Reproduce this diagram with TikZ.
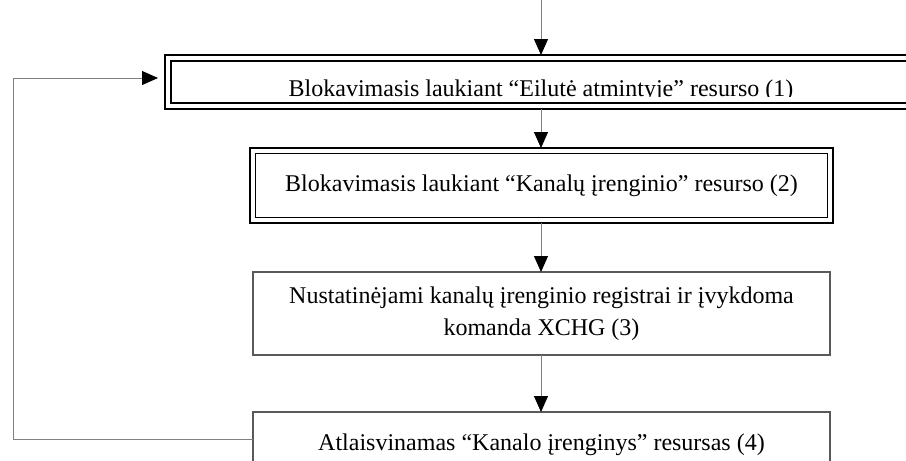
\documentclass[tikz,border=0pt]{standalone}
\usepackage{fontspec}
\setmainfont{Liberation Serif}
\usetikzlibrary{arrows.meta}
\begin{document}
\begin{tikzpicture}[x=1pt,y=-1pt,
  frame/.style={draw=black,line width=2.6pt,minimum width=#1,inner sep=0pt,outer sep=0pt},
  plainbox/.style={draw=black!65,line width=1.1pt,inner sep=0pt,outer sep=0pt},
  label/.style={anchor=base,inner sep=0pt,font=\fontsize{24}{32}\selectfont},
  flow/.style={draw=black!50,line width=1pt,-{Triangle[length=16pt,width=14pt,black]}}]
\clip (0,0) rectangle (906,461);
\fill[white] (0,0) rectangle (906,461);

% process boxes
\node[frame=752pt,minimum height=54pt] (b1) at (541,82) {};
\draw[line width=1.4pt] ([shift={(6pt,6pt)}]b1.south west) rectangle ([shift={(-6pt,-6pt)}]b1.north east);
\node[frame=583pt,minimum height=75pt] (b2) at (541.5,185.5) {};
\draw[line width=1.4pt] ([shift={(5.5pt,5.5pt)}]b2.south west) rectangle ([shift={(-5.5pt,-5.5pt)}]b2.north east);
\node[plainbox,minimum width=577pt,minimum height=83pt] (b3) at (541.5,313.5) {};
\node[plainbox,minimum width=577pt,minimum height=83pt] (b4) at (541.5,453.5) {};

% texts (the first line is cut off by its frame)
\begin{scope}
  \clip (171,61) rectangle (911,96.5);
  \node[label] (t1) at (541,96.5) {Blokavimasis laukiant “Eilutė atmintyje” resurso (1)};
\end{scope}
\node[label] (t2) at (541.5,191) {Blokavimasis laukiant “Kanalų įrenginio” resurso (2)};
\node[label] (t3a) at (541.5,303) {Nustatinėjami kanalų įrenginio registrai ir įvykdoma};
\node[label] (t3b) at (541.5,335) {komanda XCHG (3)};
\node[label] (t4) at (541.5,450) {Atlaisvinamas “Kanalo įrenginys” resursas (4)};

% connectors
\coordinate (entry) at (541,-2);
\draw[flow] (entry) -- (b1.north);
\draw[flow] (b1.south -| entry) -- (b2.north -| entry);
\draw[flow] (b2.south -| entry) -- (b3.north -| entry);
\draw[flow] (b3.south -| entry) -- (b4.north -| entry);
\draw[flow,shorten >=7pt] ([yshift=14.5pt]b4.west) -- ++(-240,0) |- ([yshift=4pt]b1.west);
\end{tikzpicture}
\end{document}
